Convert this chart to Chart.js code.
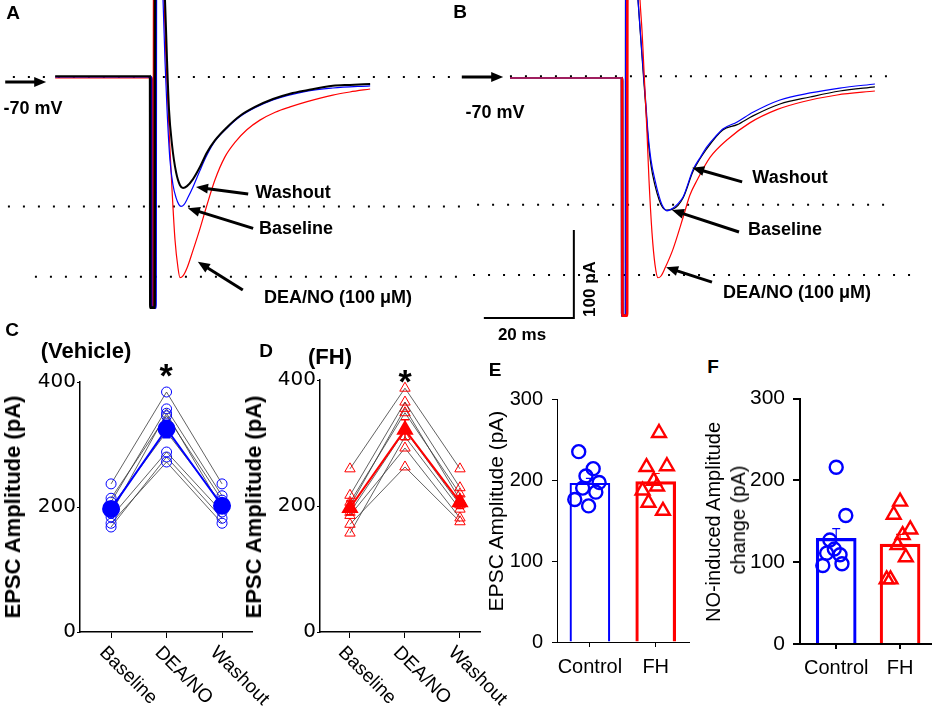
<!DOCTYPE html>
<html>
<head>
<meta charset="utf-8">
<title>DEA/NO and EPSC amplitude</title>
<script src="https://cdn.jsdelivr.net/npm/chart.js@4.4.1/dist/chart.umd.min.js"></script>
<style>
  body { margin: 0; background: #fff; font-family: "Liberation Sans", Arial, sans-serif; }
  #fig { position: relative; width: 941px; height: 716px; overflow: hidden; background: #fff; }
  canvas { position: absolute; }
  .t { position: absolute; transform: translate(-50%, -50%); white-space: nowrap; line-height: 1; font-weight: bold; color: #000; }
  .v { transform: translate(-50%, -50%) rotate(-90deg); }
  .n { font-weight: normal; }
  #clipE { position: absolute; left: 489px; top: 380px; width: 30px; height: 260px; overflow: hidden; }
</style>
</head>
<body>
<div id="fig">
  <canvas id="traceA" width="470" height="320" style="left:0;top:0"></canvas>
  <canvas id="traceB" width="486" height="320" style="left:455px;top:0"></canvas>
  <canvas id="chartC" width="270" height="345" style="left:20px;top:370px"></canvas>
  <canvas id="chartD" width="260" height="347" style="left:265px;top:368px"></canvas>
  <canvas id="chartE" width="200" height="300" style="left:500px;top:380px"></canvas>
  <canvas id="chartF" width="196" height="300" style="left:745px;top:380px"></canvas>

  <div class="t" style="left:13px;top:12px;font-size:19px">A</div>
  <div class="t" style="left:460px;top:11px;font-size:19px">B</div>
  <div class="t" style="left:33px;top:108px;font-size:18px">-70 mV</div>
  <div class="t" style="left:495px;top:112px;font-size:18px">-70 mV</div>
  <div class="t" style="left:293px;top:192px;font-size:18px">Washout</div>
  <div class="t" style="left:296px;top:228px;font-size:18px">Baseline</div>
  <div class="t" style="left:338px;top:297px;font-size:18px">DEA/NO (100 μM)</div>
  <div class="t" style="left:790px;top:177px;font-size:18px">Washout</div>
  <div class="t" style="left:785px;top:229px;font-size:18px">Baseline</div>
  <div class="t" style="left:797px;top:292px;font-size:18px">DEA/NO (100 μM)</div>
  <div class="t v" style="left:589px;top:289px;font-size:17px">100 pA</div>
  <div class="t" style="left:522px;top:334px;font-size:17px">20 ms</div>

  <div class="t" style="left:12px;top:329px;font-size:19px">C</div>
  <div class="t" style="left:86px;top:351px;font-size:22px">(Vehicle)</div>
  <div class="t" style="left:166px;top:375px;font-size:34px">*</div>
  <div class="t v" style="left:13px;top:507px;font-size:22px">EPSC Amplitude (pA)</div>

  <div class="t" style="left:266px;top:350px;font-size:19px">D</div>
  <div class="t" style="left:330px;top:357px;font-size:22px">(FH)</div>
  <div class="t" style="left:405px;top:381px;font-size:34px">*</div>
  <div class="t v" style="left:254px;top:507px;font-size:22px">EPSC Amplitude (pA)</div>

  <div class="t" style="left:495px;top:369px;font-size:19px">E</div>
  <div id="clipE"><div class="t v n" style="left:6px;top:131px;font-size:21px">EPSC Amplitude (pA)</div></div>

  <div class="t" style="left:713px;top:366px;font-size:19px">F</div>
  <div class="t v n" style="left:713px;top:522px;font-size:20px">NO-induced Amplitude</div>
  <div class="t v n" style="left:738px;top:520px;font-size:20px">change (pA)</div>
</div>

<script>
// ---- A: EPSC traces, [time from stimulus (ms), current (pA)] ----
const traceA_washout = [[-21.3, 1], [-0.2, 1], [-0.15, -262], [0.8, -262], [0.9, 110], [2.8, 110],
  [3.11, 87.5], [3.56, 19], [4.0, -37], [4.67, -77], [5.56, -108], [6.44, -123], [7.11, -126], [8.0, -124],
  [9.33, -116], [10.9, -102], [12.4, -86], [14.2, -72], [16.9, -57], [19.8, -44], [23.1, -34], [27.1, -25],
  [30.9, -19], [34.7, -15], [40.4, -10], [44.2, -9], [48.7, -8]];
const traceA_baseline = [[-21.3, 0], [0, 0], [0.05, -262], [1.0, -262], [1.1, 110], [2.4, 110],
  [2.67, 87.5], [3.1, 19], [3.56, -37], [4.2, -94], [4.9, -123], [5.56, -137], [6.2, -145], [6.67, -147],
  [7.33, -145], [8.2, -137], [9.33, -125], [10.9, -106], [12.4, -89], [14.2, -73], [16.9, -58], [19.8, -45],
  [23.1, -35], [27.1, -26], [34.7, -16], [40.4, -12.5], [48.7, -10]];
const traceA_deano = [[-21.3, -1], [0.1, -1], [0.15, -262], [0.6, -262], [0.7, 110], [2.6, 110],
  [2.9, 87.5], [3.33, 19], [4.0, -60], [4.67, -128], [5.33, -185], [6.0, -217], [6.44, -228], [7.1, -226],
  [8.0, -217], [9.33, -197], [10.9, -172], [12.4, -146], [14.2, -117], [16.4, -91], [18.7, -74], [21.3, -60],
  [24.2, -49], [27.6, -40], [30.9, -34], [34.7, -28], [40.4, -20.5], [44.2, -17], [48.7, -13.6]];
const levelsA = [0, -147, -227];

// ---- B: EPSC traces ----
const traceB_washout = [[-24.9, 0], [0, 0], [0.05, -270], [0.9, -270], [0.95, 110], [3.3, 110],
  [3.56, 88.6], [4.22, 41], [4.67, 9], [5.33, -36], [5.78, -68], [6.44, -99], [7.33, -122], [8.22, -138],
  [8.89, -146], [9.8, -150], [11.3, -149], [13.6, -136], [15.8, -106], [18.9, -80], [22.4, -59], [25.6, -53],
  [29.1, -43], [35.1, -29.5], [41.8, -21.6], [48.4, -14.8], [56.2, -10]];
const traceB_baseline = [[-24.9, 0], [0, 0], [0.05, -270], [0.9, -270], [0.95, 110], [3.3, 110],
  [3.56, 88.6], [4.22, 43], [4.67, 12.5], [5.33, -31], [5.78, -62.5], [6.44, -93], [7.33, -116], [8.22, -134],
  [8.89, -144], [10.0, -151], [11.3, -148], [12.4, -143], [13.6, -135], [15.8, -104], [17.3, -91], [18.9, -78],
  [20.7, -67], [22.4, -58], [25.6, -50], [29.1, -39], [35.1, -25], [41.8, -17], [48.4, -11.4], [56.2, -6.8]];
const traceB_deano = [[-24.9, 0], [0, 0], [0.1, -270], [1.15, -270], [1.2, 110], [3.8, 110],
  [4.0, 88.6], [4.44, 54.5], [4.67, 32], [5.1, -14], [5.56, -62.5], [6.0, -116], [6.67, -176], [7.33, -212],
  [8.0, -227], [8.67, -225], [9.56, -216], [11.3, -195], [13.6, -158], [15.1, -133], [16.7, -116], [19.6, -90],
  [23.3, -70.5], [28.4, -51], [34.4, -36], [40.2, -27], [47.8, -19.3], [56.2, -14.8]];
const levelsB = [2, -144, -224];
const scaleBarMs = 20;
const scaleBarPA = 100;

// ---- C / D: paired EPSC amplitude per cell (pA) ----
const conditions = ['Baseline', 'DEA/NO', 'Washout'];
const vehBaseline = [237, 214, 208, 200, 190, 184, 174, 168];
const vehDeaNo    = [384, 346, 357, 320, 350, 288, 272, 280];
const vehWashout  = [237, 211, 218, 205, 198, 192, 174, 182];
const vehMean = [197, 325, 202];
const vehSem  = [8, 14, 7];

const fhBaseline = [259, 217, 206, 200, 190, 185, 171, 157];
const fhDeaNo    = [387, 365, 348, 355, 320, 292, 262, 310];
const fhWashout  = [259, 229, 219, 210, 202, 181, 175, 195];
const fhMean = [197, 321, 206];
const fhSem  = [11, 16, 10];

// ---- E: baseline EPSC amplitude (pA) ----
const groups = ['Control', 'FH'];
const ampControl = [235, 214, 205, 197, 190, 185, 176, 168];
const ampFH      = [258, 216, 217, 199, 192, 187, 172, 162];
const ampMean = [196, 198];
const ampSem  = [6, 10];
const ampJitterControl = [-0.17, 0.05, -0.06, 0.14, -0.11, 0.09, -0.23, -0.02];
const ampJitterFH      = [0.05, -0.14, 0.17, -0.03, 0.02, -0.2, -0.11, 0.11];

// ---- F: NO-induced amplitude change (pA) ----
const chgControl = [216, 157, 127, 116, 111, 109, 96, 98];
const chgFH      = [174, 158, 140, 133, 121, 106, 79, 79];
const chgMean = [129, 122];
const chgSem  = [12, 12];
const chgJitterControl = [0, 0.15, -0.1, -0.03, -0.15, 0.06, -0.21, 0.09];
const chgJitterFH      = [0, -0.1, 0.16, 0.04, -0.04, 0.09, -0.15, -0.21];

const BLUE = '#0000ff';
const RED = '#ff0000';

Chart.defaults.font.family = '"Liberation Sans", Arial, sans-serif';
Chart.defaults.color = '#000';

const arrows = {
    id: 'arrows',
    afterDatasetsDraw(chart, args, opts) {
        const { ctx, scales: { x, y } } = chart;
        ctx.save();
        ctx.strokeStyle = '#000';
        ctx.fillStyle = '#000';
        ctx.lineWidth = 3;
        opts.items.forEach(a => {
            const x0 = x.getPixelForValue(a.from[0]), y0 = y.getPixelForValue(a.from[1]);
            const x1 = x.getPixelForValue(a.to[0]), y1 = y.getPixelForValue(a.to[1]);
            const ang = Math.atan2(y1 - y0, x1 - x0);
            const c = Math.cos(ang), s = Math.sin(ang);
            const head = 12, half = 5;
            ctx.beginPath();
            ctx.moveTo(x0, y0);
            ctx.lineTo(x1 - head * 0.7 * c, y1 - head * 0.7 * s);
            ctx.stroke();
            ctx.beginPath();
            ctx.moveTo(x1, y1);
            ctx.lineTo(x1 - head * c + half * s, y1 - head * s - half * c);
            ctx.lineTo(x1 - head * c - half * s, y1 - head * s + half * c);
            ctx.closePath();
            ctx.fill();
        });
        ctx.restore();
    }
};

const errorBars = {
    id: 'errorBars',
    afterDatasetsDraw(chart, args, opts) {
        const { ctx, scales: { x, y } } = chart;
        ctx.save();
        opts.items.forEach(e => {
            const px = x.getPixelForValue(e.x);
            const top = y.getPixelForValue(e.y + e.err);
            const bottom = y.getPixelForValue(e.upOnly ? e.y : e.y - e.err);
            ctx.strokeStyle = e.color;
            ctx.lineWidth = e.width || 1.5;
            ctx.beginPath();
            ctx.moveTo(px, bottom);
            ctx.lineTo(px, top);
            ctx.moveTo(px - 4, top);
            ctx.lineTo(px + 4, top);
            if (!e.upOnly) {
                ctx.moveTo(px - 4, bottom);
                ctx.lineTo(px + 4, bottom);
            }
            ctx.stroke();
        });
        ctx.restore();
    }
};

// category labels slanted downwards to the right, starting at the tick
const slantLabels = {
    id: 'slantLabels',
    afterDraw(chart, args, opts) {
        const { ctx, chartArea, scales: { x } } = chart;
        ctx.save();
        ctx.font = '19px "Liberation Sans", Arial, sans-serif';
        ctx.fillStyle = '#000';
        ctx.textAlign = 'left';
        ctx.textBaseline = 'top';
        opts.labels.forEach((lab, i) => {
            ctx.save();
            ctx.translate(x.getPixelForValue(i) - 2, chartArea.bottom + 11);
            ctx.rotate(Math.PI / 4);
            ctx.fillText(lab, 0, 0);
            ctx.restore();
        });
        ctx.restore();
    }
};

function toXY(trace) {
    return trace.map(([t, i]) => ({ x: t, y: i }));
}

// the stimulus artifact (first few ms) is drawn heavier, as in the recording
const artifactWidth = ctx => (ctx.p0.parsed.x > -1 && ctx.p1.parsed.x < 1.5 ? 2.6 : undefined);

function traceChart(id, traces, levels, dotSpans, arrowItems, xRange, yRange, extra) {
    const datasets = traces.map(tr => ({
        data: toXY(tr.data),
        borderColor: tr.color,
        borderWidth: tr.width,
        pointRadius: 0,
        cubicInterpolationMode: 'monotone',
        segment: { borderWidth: artifactWidth },
        order: tr.order
    }));
    levels.forEach((lv, k) => {
        datasets.push({
            data: [{ x: dotSpans[k][0], y: lv }, { x: dotSpans[k][1], y: lv }],
            borderColor: '#000',
            borderWidth: 2,
            borderDash: [2, 13],
            pointRadius: 0,
            order: 5
        });
    });
    (extra || []).forEach(d => datasets.push(d));
    return new Chart(document.getElementById(id), {
        type: 'line',
        data: { datasets },
        options: {
            responsive: false,
            animation: false,
            layout: { padding: 0 },
            elements: { line: { capBezierPoints: false } },
            plugins: { legend: { display: false }, tooltip: { enabled: false }, arrows: { items: arrowItems } },
            scales: {
                x: { type: 'linear', display: false, min: xRange[0], max: xRange[1] },
                y: { type: 'linear', display: false, min: yRange[0], max: yRange[1] }
            }
        },
        plugins: [arrows]
    });
}

traceChart('traceA', [
    { data: traceA_deano, color: RED, width: 1.2, order: 3 },
    { data: traceA_baseline, color: BLUE, width: 1.2, order: 2 },
    { data: traceA_washout, color: '#000', width: 2, order: 1 }
], levelsA, [[-30.7, 68.2], [-31.8, 69.3], [-25.8, 68.7]], [
    { from: [-32.4, -5.7], to: [-23.3, -5.7] },
    { from: [21.6, -133], to: [10.0, -125] },
    { from: [22.7, -172], to: [8.2, -149] },
    { from: [20.4, -242], to: [10.4, -210] }
], [-33.56, 70.89], [-276.1, 87.5]);

const barCorner = [-10.7, -272.7];
traceChart('traceB', [
    { data: traceB_washout, color: '#000', width: 1.2, order: 3 },
    { data: traceB_baseline, color: BLUE, width: 1.2, order: 2 },
    { data: traceB_deano, color: RED, width: 1.2, order: 1 }
], levelsB, [[-24.9, 60.4], [-32.2, 59.6], [-33.1, 65.1]], [
    { from: [-35.6, 1], to: [-26.4, 1] },
    { from: [26.7, -118], to: [15.6, -102] },
    { from: [26.0, -175], to: [11.1, -150] },
    { from: [20.0, -232], to: [9.8, -215] }
], [-37.11, 70.89], [-275, 88.64], [{
    data: [
        { x: barCorner[0] - scaleBarMs, y: barCorner[1] },
        { x: barCorner[0], y: barCorner[1] },
        { x: barCorner[0], y: barCorner[1] + scaleBarPA }
    ],
    borderColor: '#000',
    borderWidth: 2,
    pointRadius: 0,
    order: 0
}]);

function axisStyle(width) {
    return {
        grid: { drawOnChartArea: false, color: '#000' },
        border: { color: '#000', width: width }
    };
}

function pairedChart(id, series, mean, sem, color, shape, L) {
    const datasets = series[0].map((_, k) => ({
        data: series.map((s, i) => ({ x: i, y: s[k] })),
        borderColor: '#3a3a3a',
        borderWidth: 0.8,
        pointStyle: shape,
        pointRadius: shape === 'triangle' ? 6 : 5,
        pointBorderColor: color,
        pointBackgroundColor: 'rgba(0,0,0,0)',
        pointBorderWidth: 1,
        clip: false,
        order: 1
    }));
    datasets.push({
        data: mean.map((m, i) => ({ x: i, y: m })),
        borderColor: color,
        borderWidth: 2,
        pointStyle: shape,
        pointRadius: 8,
        pointBorderColor: color,
        pointBackgroundColor: color,
        clip: false,
        order: 0
    });
    const ax = axisStyle(1.5);
    return new Chart(document.getElementById(id), {
        type: 'line',
        data: { datasets },
        options: {
            responsive: false,
            animation: false,
            layout: { padding: { top: L.top, right: L.right, left: 0, bottom: 0 } },
            plugins: {
                legend: { display: false },
                tooltip: { enabled: false },
                errorBars: { items: mean.map((m, i) => ({ x: i, y: m, err: sem[i], color: color, width: 1.5 })) },
                slantLabels: { labels: conditions }
            },
            scales: {
                x: {
                    type: 'linear', min: L.xmin, max: L.xmax,
                    afterFit: s => { s.height = L.xh; },
                    afterBuildTicks: s => { s.ticks = conditions.map((c, i) => ({ value: i })); },
                    ticks: { display: false },
                    grid: { ...ax.grid, tickLength: 6 },
                    border: ax.border
                },
                y: {
                    type: 'linear', min: 0, max: 400,
                    afterFit: s => { s.width = L.yw; },
                    ticks: { stepSize: 200, padding: 1, font: { family: '"DejaVu Sans", sans-serif', size: 20, lineHeight: 1 } },
                    grid: { ...ax.grid, tickLength: 3 },
                    border: ax.border
                }
            }
        },
        plugins: [errorBars, slantLabels]
    });
}

pairedChart('chartC', [vehBaseline, vehDeaNo, vehWashout], vehMean, vehSem, BLUE, 'circle',
    { top: 12, right: 38, xh: 83, yw: 60, xmin: -0.56, xmax: 2.54 });
pairedChart('chartD', [fhBaseline, fhDeaNo, fhWashout], fhMean, fhSem, RED, 'triangle',
    { top: 12, right: 45, xh: 83, yw: 55, xmin: -0.545, xmax: 2.364 });

function barDotChart(id, values, jitters, mean, sem, L) {
    const colors = [BLUE, RED];
    const shapes = ['circle', 'triangle'];
    const datasets = values.map((vals, i) => ({
        type: 'scatter',
        data: vals.map((v, k) => ({ x: i + jitters[i][k], y: v })),
        pointStyle: shapes[i],
        pointRadius: i === 0 ? 6.5 : 8,
        pointBorderColor: colors[i],
        pointBackgroundColor: 'rgba(0,0,0,0)',
        pointBorderWidth: 2.4,
        clip: false,
        order: 1
    }));
    datasets.push({
        type: 'bar',
        data: mean.map((m, i) => ({ x: i, y: m })),
        backgroundColor: 'rgba(0,0,0,0)',
        borderColor: colors,
        borderWidth: L.barBorder,
        barThickness: 40,
        order: 2
    });
    const ax = axisStyle(L.axis);
    return new Chart(document.getElementById(id), {
        type: 'bar',
        data: { datasets },
        options: {
            responsive: false,
            animation: false,
            layout: { padding: { top: L.top, right: L.right, left: 0, bottom: 0 } },
            plugins: {
                legend: { display: false },
                tooltip: { enabled: false },
                errorBars: { items: mean.map((m, i) => ({ x: i, y: m, err: sem[i], color: colors[i], width: 1.2, upOnly: true })) }
            },
            scales: {
                x: {
                    type: 'linear', min: L.xmin, max: L.xmax, offset: false,
                    afterFit: s => { s.height = L.xh; },
                    afterBuildTicks: s => { s.ticks = groups.map((g, i) => ({ value: i })); },
                    ticks: { callback: v => groups[v] ?? '', padding: L.xpad, maxRotation: 0, autoSkip: false, font: { size: 20 } },
                    grid: { ...ax.grid, offset: false, tickLength: 5, lineWidth: L.axis },
                    border: ax.border
                },
                y: {
                    type: 'linear', min: 0, max: 300,
                    afterFit: s => { s.width = L.yw; },
                    ticks: { stepSize: 100, padding: L.ypad, font: { size: L.tickFont, lineHeight: 1 } },
                    grid: { ...ax.grid, tickLength: L.tick, lineWidth: L.axis },
                    border: ax.border
                }
            }
        },
        plugins: [errorBars]
    });
}

barDotChart('chartE', [ampControl, ampFH], [ampJitterControl, ampJitterFH], ampMean, ampSem,
    { top: 12, right: 10, xh: 38, yw: 57, xmin: -0.5, xmax: 1.515, barBorder: [1.5, 2.5], axis: 1,
      xpad: 8, ypad: 9, tick: 5, tickFont: 20 });
barDotChart('chartF', [chgControl, chgFH], [chgJitterControl, chgJitterFH], chgMean, chgSem,
    { top: 13, right: 4, xh: 36, yw: 55, xmin: -0.567, xmax: 1.478, barBorder: [2.5, 2.5], axis: 2,
      xpad: 7, ypad: 8, tick: 7, tickFont: 21 });
</script>
</body>
</html>
